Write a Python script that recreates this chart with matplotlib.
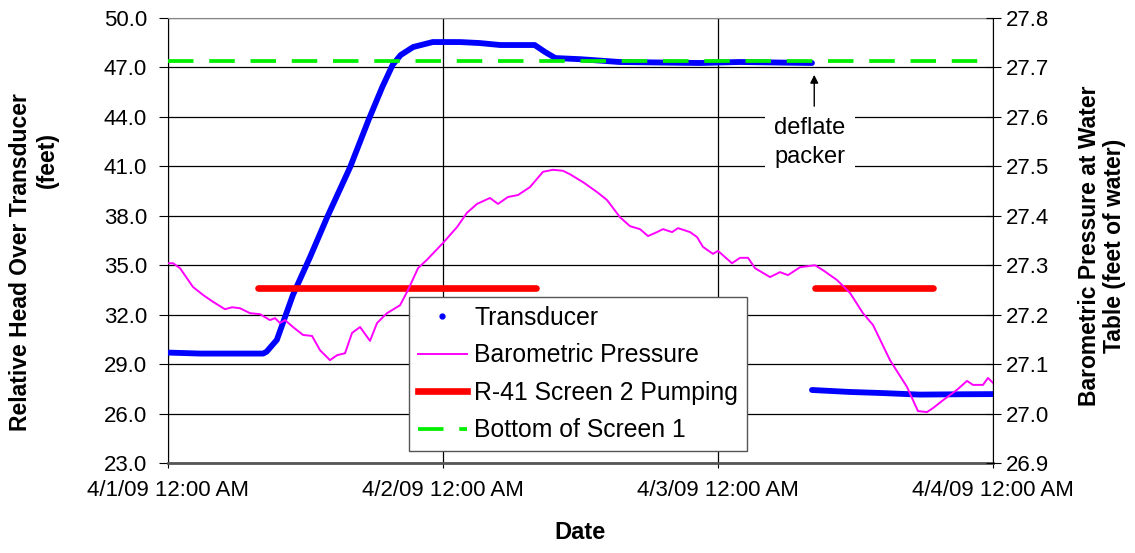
import matplotlib
matplotlib.use("Agg")
import matplotlib.dates as mdates
import matplotlib.pyplot as plt
import numpy as np
import pandas as pd
from matplotlib.lines import Line2D
from matplotlib.ticker import FixedLocator, FuncFormatter

plt.rcParams["font.family"] = ["Liberation Sans", "DejaVu Sans"]

START = pd.Timestamp("2009-04-01 00:00")

# transducer head (feet), hours since start; None splits the record at packer deflation
transducer_hours = [0.0, 2.8, 8.3, 8.6, 9.5, 10.9, 12.4, 13.9, 15.3, 15.9, 17.5, 18.7, 19.6,
                    20.3, 21.4, 23.1, 25.5, 27.2, 29.0, 32.0, 32.9, 33.8, 36.0, 39.4, 46.4,
                    49.9, 56.2,
                    56.2,
                    56.2, 59.5, 62.1, 65.6, 69.1, 72.0]
transducer_head = [29.70, 29.64, 29.64, 29.75, 30.47, 33.19, 35.50, 37.93, 40.05, 40.96, 43.81,
                   45.81, 47.15, 47.75, 48.24, 48.54, 48.54, 48.48, 48.36, 48.36, 47.94, 47.57,
                   47.50, 47.33, 47.27, 47.33, 47.27,
                   None,
                   27.43, 27.31, 27.25, 27.15, 27.17, 27.18]

# barometric pressure at water table (feet of water)
baro_hours = [0.0, 0.44, 1.05, 2.18, 3.05, 3.93, 4.97, 5.59, 6.28, 7.16, 8.03, 8.90, 9.34, 9.77,
              10.21, 10.91, 11.78, 12.57, 13.27, 14.14, 14.75, 15.45, 16.06, 16.76, 17.63, 18.24,
              19.11, 20.25, 20.95, 21.82, 22.60, 24.0, 25.22, 26.09, 26.97, 28.10, 28.80, 29.67,
              30.55, 31.59, 32.73, 33.60, 34.47, 35.08, 36.22, 37.44, 38.31, 39.45, 40.32, 41.19,
              41.89, 42.68, 43.20, 43.99, 44.51, 45.56, 46.17, 46.69, 47.56, 48.0, 49.22, 49.92,
              50.62, 51.23, 52.54, 53.41, 54.11, 55.16, 56.47, 57.16, 58.39, 59.52, 60.65, 61.53,
              63.01, 64.49, 65.45, 66.24, 66.76, 67.64, 68.86, 69.73, 70.25, 71.13, 71.56, 72.0]
baro_pressure = [27.304, 27.304, 27.294, 27.256, 27.240, 27.226, 27.211, 27.215, 27.213, 27.203,
                 27.201, 27.189, 27.193, 27.183, 27.189, 27.175, 27.159, 27.157, 27.128, 27.108,
                 27.118, 27.122, 27.163, 27.175, 27.147, 27.183, 27.203, 27.219, 27.250, 27.294,
                 27.311, 27.345, 27.377, 27.406, 27.424, 27.436, 27.424, 27.438, 27.442, 27.458,
                 27.489, 27.493, 27.491, 27.484, 27.468, 27.448, 27.432, 27.397, 27.379, 27.373,
                 27.359, 27.367, 27.373, 27.367, 27.375, 27.367, 27.357, 27.337, 27.323, 27.329,
                 27.304, 27.315, 27.315, 27.294, 27.276, 27.286, 27.280, 27.296, 27.300, 27.290,
                 27.270, 27.244, 27.203, 27.179, 27.108, 27.054, 27.005, 27.003, 27.011, 27.027,
                 27.048, 27.066, 27.058, 27.058, 27.072, 27.062]

# R-41 screen 2 pumping periods (start, end hours) drawn at a fixed head
pumping_periods = [(7.85, 32.1), (56.5, 66.8)]
pumping_level = 33.6

screen1_bottom = 47.4
deflate_hour = 56.4


def to_time(hours):
    return [START + pd.Timedelta(hours=h) for h in hours]


def date_label(x, pos=None):
    d = mdates.num2date(x)
    return f"{d.month}/{d.day}/{d:%y} {int(d.strftime('%I'))}:{d:%M} {d:%p}"


fig = plt.figure(figsize=(11.35, 5.53), dpi=100)
ax = fig.add_axes([168 / 1135, 1 - 463 / 553, 825 / 1135, 445 / 553])
ax2 = ax.twinx()

head = [float("nan") if v is None else v for v in transducer_head]
ax.plot(to_time(transducer_hours), head, color="#0000FF", lw=4.2, solid_capstyle="round",
        solid_joinstyle="round", zorder=3)

for t0, t1 in pumping_periods:
    ax.plot(to_time([t0, t1]), [pumping_level, pumping_level], color="#FF0000", lw=4.8,
            solid_capstyle="round", zorder=3)

ax.plot(to_time([0, 72]), [screen1_bottom, screen1_bottom], color="#00EE00", lw=2.7,
        dashes=(6.8, 4.2), zorder=3)

ax2.plot(to_time(baro_hours), baro_pressure, color="#FF00FF", lw=1.4, zorder=2)

# axes limits and ticks
ax.set_xlim(START, START + pd.Timedelta(days=3))
ax.set_ylim(23, 50)
ax2.set_ylim(26.9, 27.8)
ax.yaxis.set_major_locator(FixedLocator(np.arange(23, 50.5, 3)))
ax.yaxis.set_major_formatter(FuncFormatter(lambda v, p: f"{v:.1f}"))
ax2.yaxis.set_major_locator(FixedLocator(np.arange(26.9, 27.85, 0.1)))
ax2.yaxis.set_major_formatter(FuncFormatter(lambda v, p: f"{v:.1f}"))
ax.xaxis.set_major_locator(mdates.DayLocator())
ax.xaxis.set_major_formatter(FuncFormatter(date_label))

ax.tick_params(axis="y", direction="out", length=6.5, width=0.8, pad=8.5, labelsize=16)
ax.tick_params(axis="x", direction="out", length=3.6, width=0.8, pad=9, labelsize=16)
ax2.tick_params(axis="y", direction="inout", length=10.8, width=0.8, pad=4, labelsize=16)

ax.set_axisbelow(True)
ax.grid(True, color="black", lw=0.9)

for name in ("top", "bottom", "left", "right"):
    ax2.spines[name].set_visible(name == "right")
ax.spines["right"].set_visible(False)
ax.spines["top"].set_color("#888888")
ax.spines["top"].set_zorder(2.6)
ax.spines["bottom"].set_color("#555555")
ax.spines["bottom"].set_linewidth(2)
ax.spines["left"].set_color("black")
ax2.spines["right"].set_color("black")

# deflate packer note
ax.text(START + pd.Timedelta(hours=56.0), 42.45, "deflate\npacker", ha="center", va="center",
        fontsize=17, linespacing=1.45, zorder=2,
        bbox=dict(boxstyle="square,pad=0.4", fc="white", ec="none"))
ax.annotate("", xy=(START + pd.Timedelta(hours=deflate_hour), 46.55),
            xytext=(START + pd.Timedelta(hours=deflate_hour), 44.65),
            arrowprops=dict(arrowstyle="-|>", color="black", lw=1, mutation_scale=12,
                            shrinkA=0, shrinkB=0), zorder=4)

# axis titles
ax.set_xlabel("Date", fontsize=17, fontweight="bold", labelpad=14)
fig.text(21 / 1135, 1 - 262 / 553, "Relative Head Over Transducer", rotation=90,
         ha="center", va="center", fontsize=16.5, fontweight="bold")
fig.text(47 / 1135, 1 - 160 / 553, "(feet)", rotation=90,
         ha="center", va="center", fontsize=16.5, fontweight="bold")
fig.text(1102 / 1135, 1 - 246 / 553, "Barometric Pressure at Water\nTable (feet of water)",
         rotation=90, ha="center", va="center", fontsize=16.5, fontweight="bold", linespacing=1.15)

handles = [
    Line2D([], [], color="#0000FF", marker=".", ls="none", markersize=7),
    Line2D([], [], color="#FF00FF", lw=1.4),
    Line2D([], [], color="#FF0000", lw=4.8),
    Line2D([], [], color="#00EE00", lw=2.7, dashes=(6.8, 4.2)),
]
labels = ["Transducer", "Barometric Pressure", "R-41 Screen 2 Pumping", "Bottom of Screen 1"]
leg = ax2.legend(handles, labels, loc="upper left", bbox_to_anchor=(0.292, 0.373),
                 borderaxespad=0, fontsize=17.8, frameon=True, fancybox=False,
                 framealpha=1, edgecolor="#555555", handlelength=2.0, handletextpad=0.3,
                 labelspacing=0.55, borderpad=0.35)
leg.get_frame().set_linewidth(1)

fig.savefig("out.png", dpi=100)
